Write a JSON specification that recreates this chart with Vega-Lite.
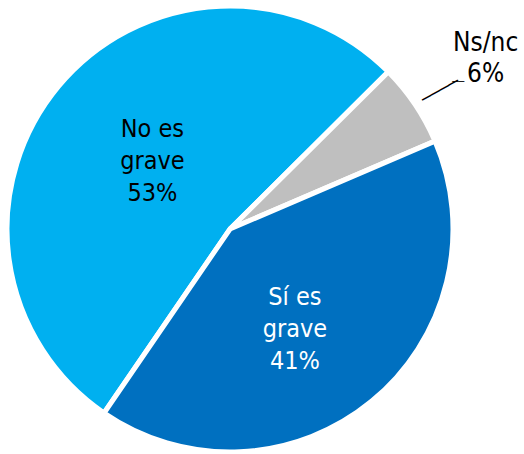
{
  "$schema": "https://vega.github.io/schema/vega-lite/v6.json",
  "width": 460,
  "height": 458,
  "autosize": "none",
  "padding": {"left": 0, "top": 0, "right": 64, "bottom": 0},
  "background": "white",
  "config": {"view": {"stroke": null}},
  "data": {
    "values": [
      {"cat": "No es grave", "pct": 53, "label": "No es\ngrave\n53%"},
      {"cat": "Ns/nc", "pct": 6, "label": "Ns/nc\n6%"},
      {"cat": "Sí es grave", "pct": 41, "label": "Sí es\ngrave\n41%"}
    ]
  },
  "encoding": {
    "theta": {"field": "pct", "type": "quantitative", "stack": true, "scale": {"range": [3.742, 10.025]}}
  },
  "layer": [
    {
      "mark": {"type": "arc", "radius": 223, "stroke": "white", "strokeWidth": 5},
      "encoding": {
        "color": {
          "field": "cat",
          "type": "nominal",
          "scale": {"domain": ["No es grave", "Ns/nc", "Sí es grave"], "range": ["#00B0F0", "#BFBFBF", "#0070C0"]},
          "legend": null
        }
      }
    },
    {
      "mark": {"type": "text", "radius": 101, "dy": -35, "font": "DejaVu Sans Condensed, DejaVu Sans", "fontSize": 25, "lineBreak": "\n", "lineHeight": 32, "align": "center", "baseline": "middle", "color": "black"},
      "encoding": {
        "detail": {"field": "cat", "type": "nominal"},
        "text": {"condition": {"test": "datum.cat === 'No es grave'", "field": "label", "type": "nominal"}, "value": ""}
      }
    },
    {
      "mark": {"type": "text", "radius": 118, "dx": -10, "dy": -23, "font": "DejaVu Sans Condensed, DejaVu Sans", "fontSize": 25, "lineBreak": "\n", "lineHeight": 32, "align": "center", "baseline": "middle", "color": "white"},
      "encoding": {
        "detail": {"field": "cat", "type": "nominal"},
        "text": {"condition": {"test": "datum.cat === 'Sí es grave'", "field": "label", "type": "nominal"}, "value": ""}
      }
    },
    {
      "mark": {"type": "text", "radius": 306, "dx": 2, "dy": -15, "font": "DejaVu Sans Condensed, DejaVu Sans", "fontSize": 26, "lineBreak": "\n", "lineHeight": 31, "align": "center", "baseline": "middle", "color": "black"},
      "encoding": {
        "detail": {"field": "cat", "type": "nominal"},
        "text": {"condition": {"test": "datum.cat === 'Ns/nc'", "field": "label", "type": "nominal"}, "value": ""}
      }
    },
    {
      "mark": {"type": "text", "radius": 250, "dx": 2, "dy": 3, "angle": 331, "font": "DejaVu Sans", "fontSize": 17, "align": "center", "baseline": "middle", "color": "black"},
      "encoding": {
        "detail": {"field": "cat", "type": "nominal"},
        "text": {"condition": {"test": "datum.cat === 'Ns/nc'", "value": "────"}, "value": ""}
      }
    },
    {
      "mark": {"type": "text", "radius": 268, "dx": 6, "dy": 3, "font": "DejaVu Sans", "fontSize": 10, "align": "center", "baseline": "middle", "color": "black"},
      "encoding": {
        "detail": {"field": "cat", "type": "nominal"},
        "text": {"condition": {"test": "datum.cat === 'Ns/nc'", "value": "──"}, "value": ""}
      }
    }
  ]
}
